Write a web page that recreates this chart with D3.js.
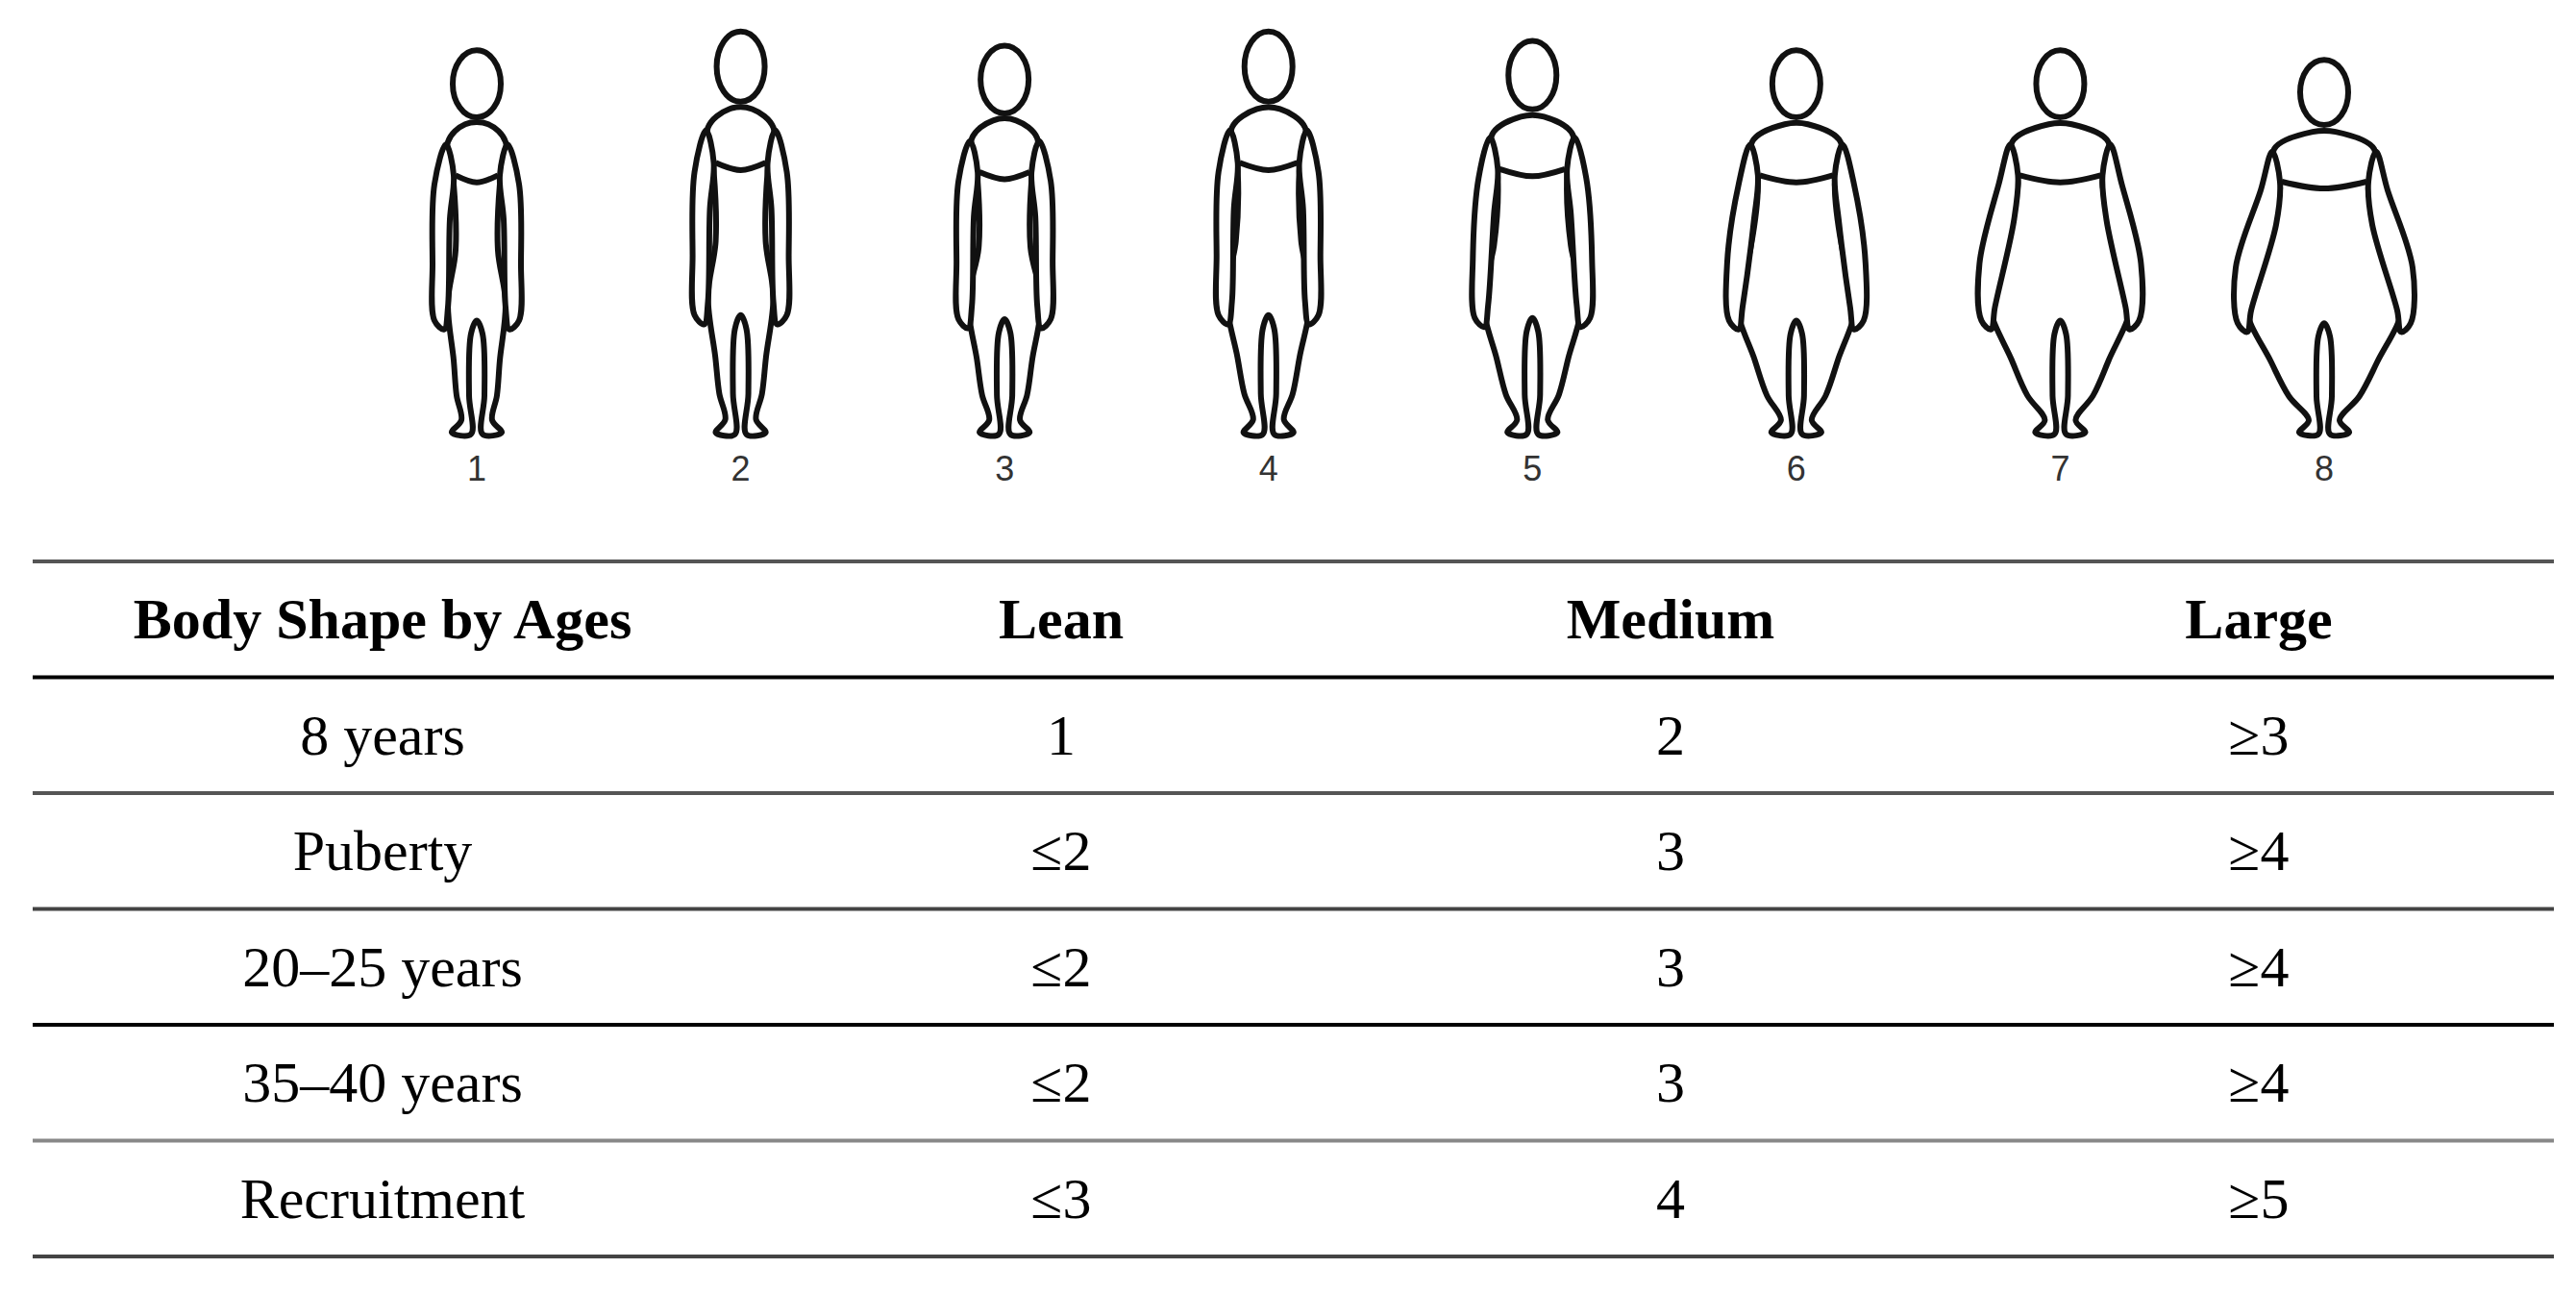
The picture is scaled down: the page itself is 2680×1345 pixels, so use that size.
<!DOCTYPE html>
<html><head><meta charset="utf-8">
<script src="https://cdn.jsdelivr.net/npm/d3@7"></script>
<style>body{margin:0;background:#fff}svg{display:block}</style>
</head><body>
<svg id="c" width="2680" height="1345"></svg>
<script>
const figureLabels = ["1","2","3","4","5","6","7","8"];
const figureTop = [45, 25, 40, 25, 35, 45, 45, 55];
const shoulderW = [36, 40, 40, 44, 48, 52, 56, 58];
const waistW = [22, 26, 27, 34, 40, 48, 62, 72];
const hipW = [30, 34, 38, 44, 52, 62, 74, 82];
const headers = ["Body Shape by Ages", "Lean", "Medium", "Large"];
const rowLabels = ["8 years", "Puberty", "20\u201325 years", "35\u201340 years", "Recruitment"];
const leanVals = ["1", "\u22642", "\u22642", "\u22642", "\u22643"];
const mediumVals = ["2", "3", "3", "3", "4"];
const largeVals = ["\u22653", "\u22654", "\u22654", "\u22654", "\u22655"];
const lineStyles = ["#555", "#000", "#555", "#444", "#000", "#888", "#444"];

const svg = d3.select("#c");
const fx = d3.scalePoint().domain(figureLabels).range([496, 2418]);
const lineC = d3.line().curve(d3.curveCatmullRomClosed);
const lineO = d3.line().curve(d3.curveCatmullRom);
const style = (sel, fill) => sel.attr("fill", fill).attr("stroke", "#111").attr("stroke-width", 6).attr("stroke-linejoin", "round");

figureLabels.forEach((lab, i) => {
  const cx = fx(lab);
  const y = d3.scaleLinear().domain([0, 440]).range([figureTop[i], 448]);
  const sw = shoulderW[i], ww = waistW[i], hw = hipW[i];
  const g = svg.append("g");
  const right = [[12,92],[sw-6,112],[sw-12,160],[ww,235],[hw,295],[hw*0.6+6,360],[hw*0.3+12,400],[16,428],[26,442],[6,444],[8,400],[6,330]];
  const pts = right.map(p => [cx + p[0], y(p[1])]);
  const left = right.slice().reverse().map(p => [cx - p[0], y(p[1])]);
  style(g.append("path").attr("d", lineC(pts.concat([[cx, y(315)]], left))), "#fff");
  style(g.append("path").attr("d", lineO([[cx-sw+14, y(150)],[cx, y(158)],[cx+sw-14, y(150)]])), "none");
  [-1, 1].forEach(s => {
    const ax = sw + 6, hx = Math.max(hw, sw) + 6;
    const arm = [[ax-10,115],[ax+2,160],[hx+4,250],[hx+2,315],[hx-8,325],[hx-12,300],[ax-14,200],[ax-18,150]]
      .map(p => [cx + s * p[0], y(p[1])]);
    style(g.append("path").attr("d", lineC(arm)), "#fff");
  });
  style(g.append("ellipse").attr("cx", cx).attr("cy", y(46)).attr("rx", 25).attr("ry", y(84) - y(46)), "#fff");
  svg.append("text").attr("x", cx).attr("y", 500).attr("text-anchor", "middle")
    .attr("font-family", "Liberation Sans, Arial").attr("font-size", 36).attr("fill", "#333").text(lab);
});

// table
const colX = d3.scaleOrdinal().domain(headers).range([398, 1104, 1738, 2350]);
const lineY = d3.scaleLinear().domain([0, 6]).range([584, 1307]);
const rowsY = d3.range(6).map(k => (lineY(k) + lineY(k + 1)) / 2);
lineStyles.forEach((c, k) => {
  svg.append("line").attr("x1", 34).attr("x2", 2657).attr("y1", lineY(k)).attr("y2", lineY(k))
    .attr("stroke", c).attr("stroke-width", 4);
});
const font = "Liberation Serif, Times New Roman, serif";
headers.forEach(h => {
  svg.append("text").attr("x", colX(h)).attr("y", rowsY[0] + 20).attr("text-anchor", "middle")
    .attr("font-family", font).attr("font-weight", "bold").attr("font-size", 60).attr("fill", "#000").text(h);
});
const cols = [rowLabels, leanVals, mediumVals, largeVals];
cols.forEach((arr, ci) => arr.forEach((v, r) => {
  svg.append("text").attr("x", colX(headers[ci])).attr("y", rowsY[r + 1] + 20).attr("text-anchor", "middle")
    .attr("font-family", font).attr("font-size", 60).attr("fill", "#000").text(v);
}));
</script>
</body></html>
